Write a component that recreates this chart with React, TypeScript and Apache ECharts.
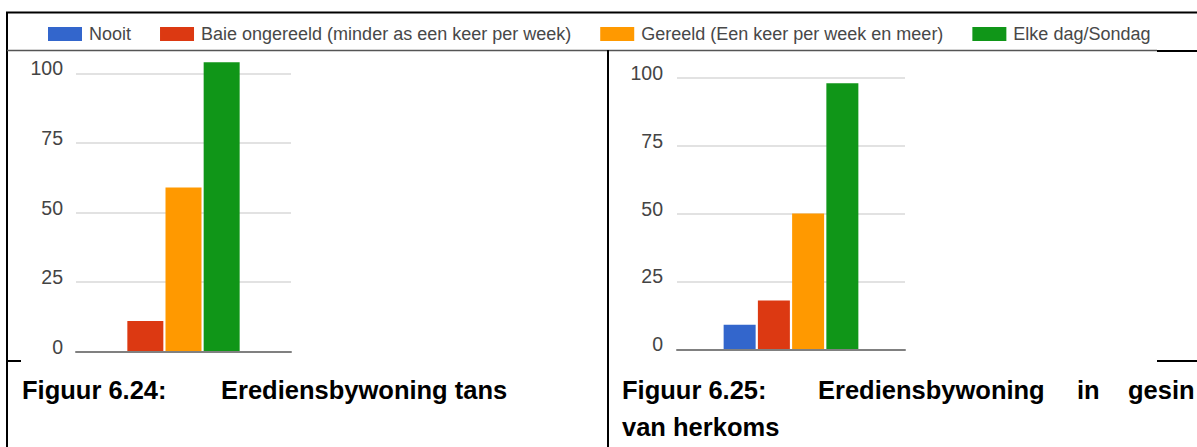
import React, { useEffect, useRef } from "react";
import * as echarts from "echarts";

const category = ["Erediensbywoning"];
const seriesNames = [
  "Nooit",
  "Baie ongereeld (minder as een keer per week)",
  "Gereeld (Een keer per week en meer)",
  "Elke dag/Sondag",
];
const seriesColors = ["#3366cc", "#dc3912", "#ff9900", "#109618"];
// Figuur 6.24: Erediensbywoning tans (Nooit not present)
const tansValues: (number | null)[] = [null, 11, 59, 104];
// Figuur 6.25: Erediensbywoning in gesin van herkoms
const herkomsValues: (number | null)[] = [9, 18, 50, 98];
const yMin = 0;
const yMax = 100;
const yInterval = 25;

const captionLeft = ["Figuur 6.24:", "Erediensbywoning tans"];
const captionRight = ["Figuur 6.25:", "Erediensbywoning", "in", "gesin", "van herkoms"];

export default function App() {
  const ref = useRef<HTMLDivElement>(null);
  useEffect(() => {
    if (!ref.current) return;
    const chart = echarts.init(ref.current, null, { renderer: "svg" });
    const font = '"Liberation Sans", Arial, sans-serif';
    const yAxisBase = (gridIndex: number, margin: number) => ({
      type: "value",
      gridIndex,
      min: yMin,
      max: yMax,
      interval: yInterval,
      axisLine: { show: false },
      axisTick: { show: false },
      axisLabel: {
        color: "#444",
        fontSize: 19.5,
        fontFamily: font,
        margin,
        verticalAlign: "bottom",
        lineHeight: 10,
      },
      splitLine: { lineStyle: { color: "#e2e2e2", width: 2 } },
    });
    const xAxisBase = (gridIndex: number) => ({
      type: "category",
      gridIndex,
      data: category,
      axisTick: { show: false },
      axisLabel: { show: false },
      axisLine: { show: true, lineStyle: { color: "#808080", width: 2 } },
      z: 3,
    });
    const series: any[] = [];
    const build = (values: (number | null)[], idx: number, width: number, gap: string) => {
      values.forEach((v, i) => {
        if (v === null) return;
        series.push({
          type: "bar",
          name: seriesNames[i],
          xAxisIndex: idx,
          yAxisIndex: idx,
          data: [v],
          barWidth: width,
          barGap: gap,
          clip: false,
          itemStyle: { color: seriesColors[i] },
        });
      });
    };
    build(tansValues, 0, 36, "6%");
    build(herkomsValues, 1, 32, "7%");

    const line = (x1: number, y1: number, x2: number, y2: number, w: number, c = "#000") => ({
      type: "line",
      shape: { x1, y1, x2, y2 },
      style: { stroke: c, lineWidth: w },
      silent: true,
    });
    const cap = (text: string, x: number, y: number) => ({
      type: "text",
      x,
      y,
      style: {
        text,
        fill: "#000",
        font: `bold 25.5px ${font}`,
        verticalAlign: "middle",
        align: "left",
      },
    });

    chart.setOption({
      animation: false,
      backgroundColor: "#fff",
      color: seriesColors,
      legend: {
        data: seriesNames,
        left: 48,
        top: 24,
        padding: 0,
        itemWidth: 34,
        itemHeight: 14,
        itemGap: 29,
        icon: "rect",
        textStyle: {
          color: "#484848",
          fontSize: 18,
          fontFamily: font,
          lineHeight: 20,
          padding: [0, 0, 0, 2],
        },
      },
      grid: [
        { left: 76, right: 1197 - 291, top: 73.3, bottom: 447 - 351.7 },
        { left: 677, right: 1197 - 905, top: 77.7, bottom: 447 - 349.3 },
      ],
      xAxis: [xAxisBase(0), xAxisBase(1)],
      yAxis: [yAxisBase(0, 13), yAxisBase(1, 14)],
      series,
      graphic: [
        line(6, 12.5, 1197, 12.5, 2),
        line(7, 12, 7, 447, 2),
        line(7, 50.5, 1157, 50.5, 1.5, "#555"),
        line(1157, 51, 1197, 51, 2),
        line(608, 50, 608, 447, 2),
        line(7, 361, 21, 361, 2),
        line(1157, 361, 1197, 361, 2),
        cap(captionLeft[0], 22, 390),
        cap(captionLeft[1], 221, 390),
        cap(captionRight[0], 622, 390),
        cap(captionRight[1], 818, 390),
        cap(captionRight[2], 1077, 390),
        cap(captionRight[3], 1128, 390),
        cap(captionRight[4], 622, 427),
      ],
    });
    return () => chart.dispose();
  }, []);
  return (
    <div
      ref={ref}
      style={{ position: "absolute", left: 0, top: 0, width: 1197, height: 447, background: "#fff" }}
    />
  );
}
